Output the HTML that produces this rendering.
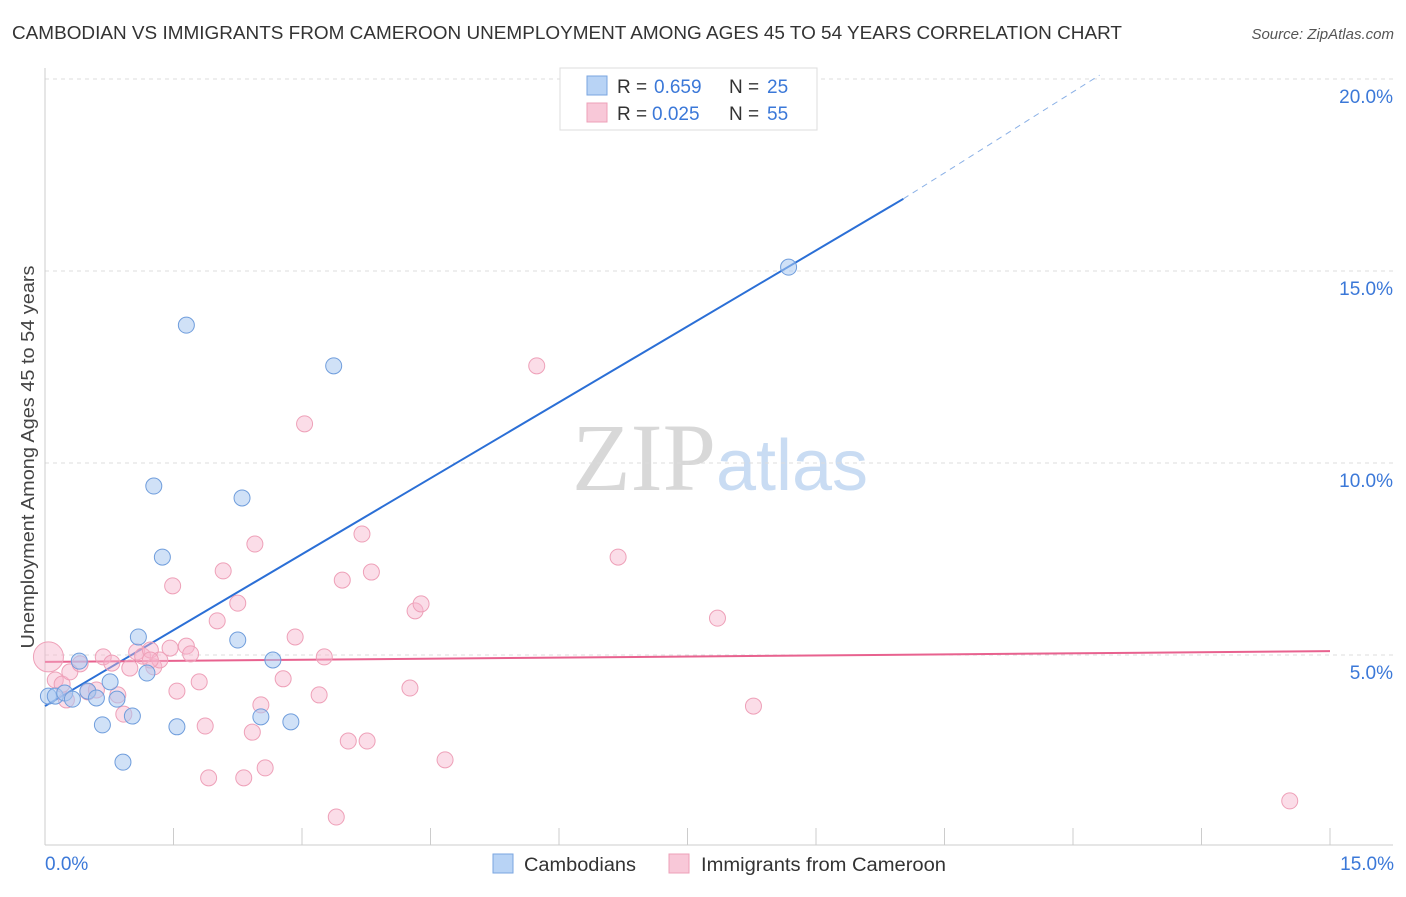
<!DOCTYPE html>
<html><head><meta charset="utf-8"><style>
body{margin:0;background:#fff;font-family:"Liberation Sans",sans-serif;}
svg text{font-family:"Liberation Sans",sans-serif;}
</style></head><body>
<svg id="chart" width="1406" height="892" viewBox="0 0 1406 892" xmlns="http://www.w3.org/2000/svg">
<text x="12" y="39" font-size="18" fill="#333" textLength="1110" lengthAdjust="spacingAndGlyphs">CAMBODIAN VS IMMIGRANTS FROM CAMEROON UNEMPLOYMENT AMONG AGES 45 TO 54 YEARS CORRELATION CHART</text>
<text x="1394" y="39" font-size="15" fill="#555" font-style="italic" text-anchor="end">Source: ZipAtlas.com</text>
<text transform="translate(34,457) rotate(-90)" font-size="18" fill="#444" text-anchor="middle" textLength="383" lengthAdjust="spacingAndGlyphs">Unemployment Among Ages 45 to 54 years</text>
<text x="720" y="490" font-size="96" text-anchor="middle"><tspan fill="#d8d8d8" font-family="Liberation Serif">ZIP</tspan><tspan fill="#c9dcf3" font-size="72">atlas</tspan></text>
<g id="grid"></g><g id="axes"></g><g id="lines"></g><g id="points"></g>
<g>
<rect x="560" y="68" width="257" height="62" fill="#fff" stroke="#ddd"/>
<rect x="587" y="76" width="20" height="19" fill="#b8d3f5" stroke="#7aa6e0"/>
<text x="617" y="93" font-size="19" fill="#333">R =</text>
<text x="654" y="93" font-size="19" fill="#3b78d8">0.659</text>
<text x="729" y="93" font-size="19" fill="#333">N =</text>
<text x="767" y="93" font-size="19" fill="#3b78d8">25</text>
<rect x="587" y="103" width="20" height="19" fill="#f8c8d8" stroke="#eea0b8"/>
<text x="617" y="120" font-size="19" fill="#333">R =</text>
<text x="652" y="120" font-size="19" fill="#3b78d8">0.025</text>
<text x="729" y="120" font-size="19" fill="#333">N =</text>
<text x="767" y="120" font-size="19" fill="#3b78d8">55</text>
</g>
<g>
<rect x="493" y="854" width="20" height="19" fill="#b8d3f5" stroke="#7aa6e0"/>
<text x="524" y="871" font-size="19" fill="#333" textLength="112" lengthAdjust="spacingAndGlyphs">Cambodians</text>
<rect x="669" y="854" width="20" height="19" fill="#f8c8d8" stroke="#eea0b8"/>
<text x="701" y="871" font-size="19" fill="#333" textLength="245" lengthAdjust="spacingAndGlyphs">Immigrants from Cameroon</text>
</g>
</svg>
<script>
const xTicks=[0,1.5,3,4.5,6,7.5,9,10.5,12,13.5,15];
const yTicks=[5,10,15,20];
const yTickLabels=["5.0%","10.0%","15.0%","20.0%"];
const xEndLabels=["0.0%","15.0%"];
const blueX=[0.04,0.12,0.23,0.32,0.40,0.50,0.60,0.67,0.76,0.84,0.91,1.02,1.09,1.19,1.27,1.37,1.54,1.65,2.25,2.30,2.52,2.66,2.87,3.37,8.68];
const blueY=[3.93,3.93,4.01,3.85,4.84,4.06,3.88,3.18,4.30,3.85,2.21,3.41,5.47,4.53,9.40,7.55,3.13,13.59,5.39,9.09,3.39,4.87,3.26,12.53,15.10];
const pinkX=[0.12,0.20,0.29,0.41,0.50,0.60,0.68,0.78,0.85,0.92,0.99,1.07,1.14,1.23,1.27,1.34,1.46,1.49,1.54,1.65,1.70,1.80,1.87,1.91,2.01,2.08,2.25,2.32,2.42,2.45,2.52,2.57,2.78,2.92,3.03,3.20,3.26,3.40,3.47,3.54,3.70,3.76,3.81,4.26,4.32,4.39,4.67,5.74,6.69,7.85,8.27,14.53,0.25,1.23];
const pinkY=[4.35,4.24,4.56,4.77,4.04,4.09,4.95,4.79,3.96,3.46,4.66,5.08,4.97,5.13,4.69,4.87,5.18,6.80,4.06,5.23,5.03,4.30,3.15,1.80,5.89,7.19,6.35,1.80,2.99,7.89,3.70,2.06,4.38,5.47,11.02,3.96,4.95,0.78,6.95,2.76,8.15,2.76,7.16,4.14,6.15,6.33,2.27,12.53,7.55,5.96,3.67,1.20,3.83,4.87];
const bigPink=[0.04,4.95];
const blueLine=[0,3.67,10.02,16.88,12.31,20.1];
const pinkLine=[0,4.82,15,5.10];
const NS="http://www.w3.org/2000/svg";
const sx=v=>45+v*1285/15;
const sy=v=>847-v*38.4;
function mk(tag,attrs,parent){const e=document.createElementNS(NS,tag);for(const k in attrs)e.setAttribute(k,attrs[k]);document.getElementById(parent).appendChild(e);return e;}
yTicks.forEach((t,i)=>{
 const g=mk('line',{x1:45,x2:1393,y1:sy(t),y2:sy(t),stroke:'#ddd','stroke-dasharray':'4 4'},'grid');
 
 
 const l=mk('text',{x:1393,y:sy(t)+24,'font-size':19,fill:'#3b78d8','text-anchor':'end'},'axes');
 l.textContent=yTickLabels[i];
 
 
});
const ax=mk('line',{x1:45,x2:1393,y1:845,y2:845,stroke:'#ccc'},'axes');


const ay=mk('line',{x1:45,x2:45,y1:68,y2:845,stroke:'#ccc'},'axes');


xTicks.forEach(t=>{
 const k=mk('line',{x1:sx(t),x2:sx(t),y1:828,y2:845,stroke:'#ccc'},'axes');
 
 
});
const xl0=mk('text',{x:45,y:870,'font-size':19,fill:'#3b78d8'},'axes');xl0.textContent=xEndLabels[0];


const xl1=mk('text',{x:1394,y:870,'font-size':19,fill:'#3b78d8','text-anchor':'end'},'axes');xl1.textContent=xEndLabels[1];


const bl=mk('line',{x1:sx(blueLine[0]),y1:sy(blueLine[1]),x2:sx(blueLine[2]),y2:sy(blueLine[3]),stroke:'#2b6fd6','stroke-width':2},'lines');


const bd=mk('line',{x1:sx(blueLine[2]),y1:sy(blueLine[3]),x2:sx(blueLine[4]),y2:sy(blueLine[5]),stroke:'#8ab0e6','stroke-width':1,'stroke-dasharray':'6 5'},'lines');


const pl=mk('line',{x1:sx(pinkLine[0]),y1:sy(pinkLine[1]),x2:sx(pinkLine[2]),y2:sy(pinkLine[3]),stroke:'#e8628f','stroke-width':2},'lines');


const bp=mk('circle',{cx:sx(bigPink[0]),cy:sy(bigPink[1]),r:15,fill:'rgba(246,180,204,0.45)',stroke:'#eea0b8','stroke-width':1},'points');


pinkX.forEach((x,i)=>{
 const c=mk('circle',{cx:sx(x),cy:sy(pinkY[i]),r:8,fill:'rgba(246,180,204,0.45)',stroke:'#eea0b8','stroke-width':1},'points');
 
 
});
blueX.forEach((x,i)=>{
 const c=mk('circle',{cx:sx(x),cy:sy(blueY[i]),r:8,fill:'rgba(170,200,240,0.55)',stroke:'#6f9ddc','stroke-width':1},'points');
 
 
});
</script>
</body></html>
